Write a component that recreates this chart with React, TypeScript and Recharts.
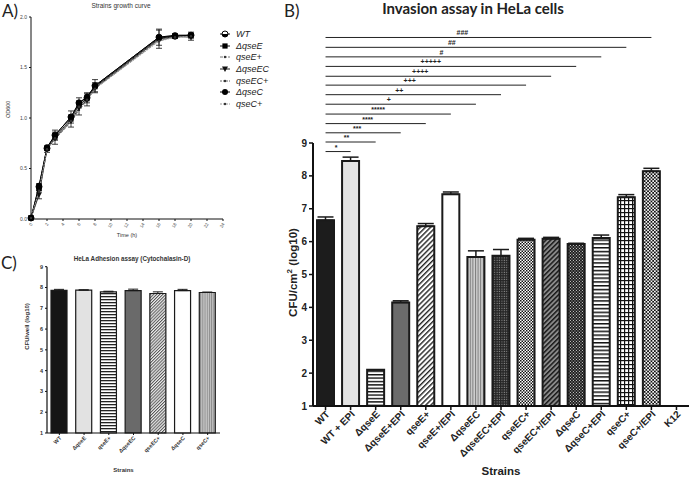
import React from "react";
import {
  Bar,
  BarChart,
  Cell,
  ErrorBar,
  Legend,
  Line,
  LineChart,
  ReferenceLine,
  XAxis,
  YAxis,
} from "recharts";

const FONT = "'Liberation Sans', Arial, sans-serif";
const HEAD_FONT = "Lato, 'Open Sans', sans-serif";

// ---------- A) growth curve ----------
const growthHours = [0, 1, 2, 3, 5, 6, 7, 8, 16, 18, 20];
const odWT = [0.01, 0.32, 0.7, 0.83, 1.01, 1.15, 1.2, 1.32, 1.8, 1.81, 1.82];
const odQseE = [0.01, 0.3, 0.7, 0.81, 0.99, 1.13, 1.19, 1.31, 1.79, 1.81, 1.82];
const odQseEPlus = [0.01, 0.26, 0.69, 0.79, 0.96, 1.08, 1.17, 1.29, 1.77, 1.8, 1.81];
const odQseEC = [0.01, 0.24, 0.69, 0.8, 0.97, 1.1, 1.18, 1.3, 1.78, 1.81, 1.8];
const odQseECPlus = [0.01, 0.27, 0.7, 0.82, 0.98, 1.12, 1.19, 1.3, 1.78, 1.8, 1.81];
const odQseC = [0.01, 0.33, 0.71, 0.83, 1.01, 1.15, 1.21, 1.32, 1.8, 1.82, 1.82];
const odQseCPlus = [0.01, 0.28, 0.69, 0.8, 0.97, 1.11, 1.18, 1.29, 1.76, 1.8, 1.81];
const odErrWT = [0, 0.03, 0.02, 0.05, 0.06, 0.05, 0.05, 0.06, 0.08, 0.02, 0.03];
const odErrQseEC = [0, 0.04, 0.03, 0.06, 0.06, 0.07, 0.06, 0.05, 0.09, 0.02, 0.03];
const growthXTicks = [0, 2, 4, 6, 8, 10, 12, 14, 16, 18, 20, 22, 24];
const growthYTicks = [0, 0.5, 1, 1.5, 2];

// ---------- B) invasion assay ----------
const invasionStrains = [
  "WT", "WT + EPI", "ΔqseE", "ΔqseE+EPI", "qseE+", "qseE+/EPI", "ΔqseEC", "ΔqseEC+EPI",
  "qseEC+", "qseEC+/EPI", "ΔqseC", "ΔqseC+EPI", "qseC+", "qseC+/EPI", "K12",
];
const invasionMeans = [6.65, 8.45, 2.1, 4.15, 6.47, 7.44, 5.53, 5.57, 6.06, 6.09, 5.93, 6.11, 7.35, 8.14, null];
const invasionSem = [0.1, 0.12, 0, 0.05, 0.08, 0.07, 0.19, 0.19, 0.04, 0.04, 0.02, 0.09, 0.08, 0.09, null];
const invasionTicks = [1, 2, 3, 4, 5, 6, 7, 8, 9];

// significance brackets: all start at WT
const sigMarks = ["*", "**", "***", "****", "*****", "+", "++", "+++", "++++", "+++++", "#", "##", "###"];
const sigTargets = [
  "WT + EPI", "ΔqseE", "ΔqseE+EPI", "qseE+", "qseE+/EPI", "ΔqseEC", "ΔqseEC+EPI",
  "qseEC+", "qseEC+/EPI", "ΔqseC", "ΔqseC+EPI", "qseC+", "qseC+/EPI",
];
const sigLevels = [8.74, 9.03, 9.31, 9.59, 9.88, 10.18, 10.47, 10.76, 11.03, 11.33, 11.62, 11.91, 12.21];

// ---------- C) adhesion assay ----------
const adhesionStrains = ["WT", "ΔqseE", "qseE+", "ΔqseEC", "qseEC+", "ΔqseC", "qseC+"];
const adhesionMeans = [7.86, 7.87, 7.79, 7.85, 7.71, 7.85, 7.76];
const adhesionSem = [0.05, 0.02, 0.03, 0.07, 0.08, 0.06, 0.02];
const adhesionTicks = [1, 2, 3, 4, 5, 6, 7, 8, 9];

const growthData = growthHours.map((t, i) => ({
  time: t,
  wt: odWT[i],
  qseE: odQseE[i],
  qseEPlus: odQseEPlus[i],
  qseEC: odQseEC[i],
  qseECPlus: odQseECPlus[i],
  qseC: odQseC[i],
  qseCPlus: odQseCPlus[i],
  wtErr: odErrWT[i],
  qseECErr: odErrQseEC[i],
}));

const invasionData = invasionStrains.map((s, i) => ({
  strain: s,
  mean: invasionMeans[i],
  err: invasionSem[i] == null ? null : [0, invasionSem[i]],
}));

const adhesionData = adhesionStrains.map((s, i) => ({
  strain: s,
  mean: adhesionMeans[i],
  err: [0, adhesionSem[i]],
}));

type Marker = "half" | "square" | "tri" | "circle" | "dot";

const growthSeries: { key: string; name: string; marker: Marker; stroke: string; dash?: string; err?: string }[] = [
  { key: "wt", name: "WT", marker: "half", stroke: "#111", err: "wtErr" },
  { key: "qseE", name: "ΔqseE", marker: "square", stroke: "#111" },
  { key: "qseEPlus", name: "qseE+", marker: "dot", stroke: "#777", dash: "3 1" },
  { key: "qseEC", name: "ΔqseEC", marker: "tri", stroke: "#222", err: "qseECErr" },
  { key: "qseECPlus", name: "qseEC+", marker: "dot", stroke: "#666", dash: "2 1" },
  { key: "qseC", name: "ΔqseC", marker: "circle", stroke: "#000" },
  { key: "qseCPlus", name: "qseC+", marker: "dot", stroke: "#999", dash: "2 1" },
];

function markerShape(kind: Marker, cx: number, cy: number, key: string) {
  if (cx == null || cy == null) return <g key={key} />;
  switch (kind) {
    case "half":
      return (
        <g key={key}>
          <circle cx={cx} cy={cy} r={3} fill="#fff" stroke="#000" strokeWidth={1} />
          <path d={`M${cx - 3},${cy} A3,3 0 0 0 ${cx + 3},${cy} Z`} fill="#000" />
        </g>
      );
    case "square":
      return <rect key={key} x={cx - 2.6} y={cy - 2.6} width={5.2} height={5.2} fill="#000" />;
    case "tri":
      return <path key={key} d={`M${cx - 3},${cy - 2.5} L${cx + 3},${cy - 2.5} L${cx},${cy + 3} Z`} fill="#111" />;
    case "circle":
      return <circle key={key} cx={cx} cy={cy} r={3} fill="#000" />;
    default:
      return <circle key={key} cx={cx} cy={cy} r={1.2} fill="#333" />;
  }
}

function GrowthLegend() {
  return (
    <div style={{ fontFamily: FONT, fontSize: 9, fontStyle: "italic", color: "#222" }}>
      {growthSeries.map((s) => (
        <div key={s.key} style={{ display: "flex", alignItems: "center", height: 11.7 }}>
          <svg width={12} height={10}>
            <line x1={1} x2={11} y1={5} y2={5} stroke={s.stroke} strokeDasharray={s.dash} />
            {markerShape(s.marker, 6, 5, "m")}
          </svg>
          <span style={{ marginLeft: 5 }}>{s.name}</span>
        </div>
      ))}
    </div>
  );
}

function GrowthXTick({ x, y, payload }: any) {
  return (
    <text x={x} y={y} dy={2} transform={`rotate(-60, ${x}, ${y})`} textAnchor="end" fontSize={4.5} fontFamily={FONT} fill="#555">
      {payload.value}
    </text>
  );
}

function InvasionXTick({ x, y, payload }: any) {
  return (
    <text
      x={x + 2}
      y={y}
      dy={4}
      transform={`rotate(-45, ${x + 2}, ${y})`}
      textAnchor="end"
      fontSize={10}
      fontWeight="bold"
      fontFamily={FONT}
      fill="#222"
    >
      {payload.value}
    </text>
  );
}

function AdhesionXTick({ x, y, payload }: any) {
  return (
    <text
      x={x + 1}
      y={y}
      dy={2}
      transform={`rotate(-45, ${x + 1}, ${y})`}
      textAnchor="end"
      fontSize={5.5}
      fontWeight="bold"
      fontFamily={FONT}
      fill="#333"
    >
      {payload.value}
    </text>
  );
}

function SigLabel(props: any) {
  const vb = props.viewBox;
  if (!vb) return null;
  return (
    <text
      x={vb.x + vb.width * 0.42}
      y={vb.y - 2}
      textAnchor="middle"
      fontSize={7}
      fontWeight="bold"
      fontFamily={FONT}
      fill="#222"
    >
      {props.value}
    </text>
  );
}

function InvasionYLabel(props: any) {
  const vb = props.viewBox || { x: 0, y: 143, width: 33, height: 263 };
  const cx = vb.x + 13;
  const cy = vb.y + vb.height / 2 - 2;
  return (
    <text
      x={cx}
      y={cy}
      transform={`rotate(-90, ${cx}, ${cy})`}
      textAnchor="middle"
      dominantBaseline="central"
      fontFamily={FONT}
      fontWeight="bold"
      fontSize={11.5}
      fill="#222"
    >
      CFU/cm
      <tspan dy={-4} fontSize={8}>2</tspan>
      <tspan dy={4}> (log10)</tspan>
    </text>
  );
}

const invasionFills = [
  "#1c1c1c", "#e3e3e3", "url(#bHLines)", "#6b6b6b", "url(#bDiag)", "#ffffff", "url(#bVLines)", "url(#bDense)",
  "url(#bCheck)", "url(#bDiagDark)", "url(#bCheckDark)", "url(#bHLines2)", "url(#bGrid)", "url(#bCheck2)", "#ffffff",
];
const adhesionFills = ["#151515", "#e2e2e2", "url(#cHLines)", "#6a6a6a", "url(#cDiag)", "#ffffff", "url(#cVLines)"];

const headStyle: React.CSSProperties = { position: "absolute", fontFamily: HEAD_FONT, fontSize: 17, lineHeight: "20px", color: "#222" };

export default function App() {
  return (
    <div style={{ position: "absolute", left: 0, top: 0, width: 691, height: 478, background: "#fff", overflow: "hidden" }}>
      {/* Panel letters and titles */}
      <div style={{ ...headStyle, left: 2, top: 1 }}>A)</div>
      <div style={{ ...headStyle, left: 284, top: 1 }}>B)</div>
      <div style={{ ...headStyle, left: 1, top: 253 }}>C)</div>
      <div style={{ position: "absolute", left: 60, top: 2, width: 122, textAlign: "center", fontFamily: FONT, fontSize: 6.5, lineHeight: "8px", color: "#333" }}>
        Strains growth curve
      </div>
      <div style={{ position: "absolute", left: 360, top: 0, width: 226, textAlign: "center", fontFamily: HEAD_FONT, fontSize: 15, lineHeight: "17px", fontWeight: 700, color: "#222" }}>
        Invasion assay in HeLa cells
      </div>
      <div style={{ position: "absolute", left: 50, top: 255, width: 164, textAlign: "center", fontFamily: FONT, fontSize: 6.3, lineHeight: "8px", fontWeight: 700, color: "#333" }}>
        HeLa Adhesion assay (Cytochalasin-D)
      </div>

      {/* A) growth curve */}
      <div style={{ position: "absolute", left: 0, top: 0 }}>
        <LineChart width={280} height={245} data={growthData} margin={{ top: 17, right: 57, bottom: 0, left: 0 }}>
          <XAxis
            dataKey="time"
            type="number"
            domain={[0, 24]}
            ticks={growthXTicks}
            interval={0}
            height={26}
            tickSize={2}
            tick={<GrowthXTick />}
            axisLine={{ stroke: "#111", strokeWidth: 1 }}
            tickLine={{ stroke: "#111" }}
            label={{ value: "Time (h)", position: "insideBottom", offset: 8, fontSize: 5.5, fontFamily: FONT, fill: "#333" }}
          />
          <YAxis
            domain={[0, 2]}
            ticks={growthYTicks}
            width={31}
            tickSize={2}
            tickFormatter={(v: number) => v.toFixed(1)}
            tick={{ fontSize: 5, fontFamily: FONT, fill: "#444" }}
            axisLine={{ stroke: "#111", strokeWidth: 1 }}
            tickLine={{ stroke: "#111" }}
            label={{ value: "OD600", angle: -90, position: "insideLeft", offset: 8, fontSize: 5.5, fontFamily: FONT, fill: "#333" }}
          />
          <Legend
            content={<GrowthLegend />}
            layout="vertical"
            align="center"
            verticalAlign="middle"
            wrapperStyle={{ left: 219, top: 28, width: 70 }}
          />
          {growthSeries.map((s) => (
            <Line
              key={s.key}
              dataKey={s.key}
              name={s.name}
              stroke={s.stroke}
              strokeWidth={1}
              strokeDasharray={s.dash}
              isAnimationActive={false}
              dot={(p: any) => markerShape(s.marker, p.cx, p.cy, `${s.key}-${p.index}`)}
              activeDot={false}
            >
              {s.err ? <ErrorBar dataKey={s.err} direction="y" width={3} stroke="#111" strokeWidth={0.8} /> : null}
            </Line>
          ))}
        </LineChart>
      </div>

      {/* B) invasion assay */}
      <div style={{ position: "absolute", left: 280, top: 0 }}>
        <BarChart width={411} height={478} data={invasionData} margin={{ top: 143, right: 2, bottom: 0, left: 0 }} barSize={17}>
          <defs>
            <pattern id="bHLines" width="4" height="3.4" patternUnits="userSpaceOnUse">
              <rect width="4" height="3.4" fill="#fff" />
              <rect width="4" height="1.4" fill="#111" />
            </pattern>
            <pattern id="bHLines2" width="4" height="3.8" patternUnits="userSpaceOnUse">
              <rect width="4" height="3.8" fill="#fff" />
              <rect width="4" height="1.5" fill="#111" />
            </pattern>
            <pattern id="bDiag" width="3.6" height="3.6" patternUnits="userSpaceOnUse" patternTransform="rotate(45)">
              <rect width="3.6" height="3.6" fill="#fff" />
              <rect width="1.4" height="3.6" fill="#222" />
            </pattern>
            <pattern id="bDiagDark" width="3.4" height="3.4" patternUnits="userSpaceOnUse" patternTransform="rotate(45)">
              <rect width="3.4" height="3.4" fill="#8a8a8a" />
              <rect width="1.5" height="3.4" fill="#1a1a1a" />
            </pattern>
            <pattern id="bVLines" width="2.6" height="4" patternUnits="userSpaceOnUse">
              <rect width="2.6" height="4" fill="#cfcfcf" />
              <rect width="1" height="4" fill="#7a7a7a" />
            </pattern>
            <pattern id="bDense" width="2.4" height="2.4" patternUnits="userSpaceOnUse">
              <rect width="2.4" height="2.4" fill="#262626" />
              <rect x="0.6" y="0.6" width="1" height="1" fill="#9a9a9a" />
            </pattern>
            <pattern id="bCheck" width="3" height="3" patternUnits="userSpaceOnUse">
              <rect width="3" height="3" fill="#fff" />
              <rect width="1.5" height="1.5" fill="#111" />
              <rect x="1.5" y="1.5" width="1.5" height="1.5" fill="#111" />
            </pattern>
            <pattern id="bCheck2" width="3.4" height="3.4" patternUnits="userSpaceOnUse">
              <rect width="3.4" height="3.4" fill="#f4f4f4" />
              <rect width="1.7" height="1.7" fill="#111" />
              <rect x="1.7" y="1.7" width="1.7" height="1.7" fill="#111" />
            </pattern>
            <pattern id="bCheckDark" width="3" height="3" patternUnits="userSpaceOnUse">
              <rect width="3" height="3" fill="#1a1a1a" />
              <rect x="0.4" y="0.4" width="1.1" height="1.1" fill="#bdbdbd" />
              <rect x="1.9" y="1.9" width="1.1" height="1.1" fill="#bdbdbd" />
            </pattern>
            <pattern id="bGrid" width="4" height="4" patternUnits="userSpaceOnUse">
              <rect width="4" height="4" fill="#fff" />
              <rect width="4" height="1.2" fill="#111" />
              <rect width="1.2" height="4" fill="#111" />
            </pattern>
          </defs>
          <XAxis
            dataKey="strain"
            interval={0}
            height={72}
            tickSize={4}
            tick={<InvasionXTick />}
            axisLine={{ stroke: "#111", strokeWidth: 2 }}
            tickLine={{ stroke: "#111", strokeWidth: 1.5 }}
            label={{ value: "Strains", position: "insideBottom", offset: 3, fontSize: 11.5, fontWeight: "bold", fontFamily: FONT, fill: "#222" }}
          />
          <YAxis
            domain={[1, 9]}
            ticks={invasionTicks}
            interval={0}
            allowDataOverflow
            width={33}
            tickSize={4}
            tick={{ fontSize: 10, fontWeight: "bold", fontFamily: FONT, fill: "#222" }}
            axisLine={{ stroke: "#111", strokeWidth: 2 }}
            tickLine={{ stroke: "#111", strokeWidth: 1.5 }}
            label={<InvasionYLabel />}
          />
          {sigMarks.map((m, i) => (
            <ReferenceLine
              key={m}
              segment={[
                { x: "WT", y: sigLevels[i] },
                { x: sigTargets[i], y: sigLevels[i] },
              ]}
              ifOverflow="visible"
              stroke="#222"
              strokeWidth={1}
              label={{ value: m, content: SigLabel }}
            />
          ))}
          <Bar dataKey="mean" stroke="#1a1a1a" strokeWidth={2} isAnimationActive={false}>
            {invasionData.map((d, i) => (
              <Cell key={d.strain} fill={invasionFills[i]} />
            ))}
            <ErrorBar dataKey="err" direction="y" width={8} stroke="#1a1a1a" strokeWidth={1.5} />
          </Bar>
        </BarChart>
      </div>

      {/* C) adhesion assay */}
      <div style={{ position: "absolute", left: 0, top: 245 }}>
        <BarChart width={230} height={233} data={adhesionData} margin={{ top: 21.7, right: 10, bottom: 0, left: 0 }} barSize={16}>
          <defs>
            <pattern id="cHLines" width="4" height="3" patternUnits="userSpaceOnUse">
              <rect width="4" height="3" fill="#fff" />
              <rect width="4" height="1.3" fill="#222" />
            </pattern>
            <pattern id="cDiag" width="2.2" height="2.2" patternUnits="userSpaceOnUse" patternTransform="rotate(45)">
              <rect width="2.2" height="2.2" fill="#eee" />
              <rect width="1" height="2.2" fill="#555" />
            </pattern>
            <pattern id="cVLines" width="2.2" height="4" patternUnits="userSpaceOnUse">
              <rect width="2.2" height="4" fill="#c4c4c4" />
              <rect width="0.9" height="4" fill="#8a8a8a" />
            </pattern>
          </defs>
          <XAxis
            dataKey="strain"
            interval={0}
            height={45}
            tickSize={2}
            tick={<AdhesionXTick />}
            axisLine={{ stroke: "#111", strokeWidth: 1.2 }}
            tickLine={{ stroke: "#111" }}
            label={{ value: "Strains", position: "insideBottom", offset: 6, dx: -10, fontSize: 6, fontWeight: "bold", fontFamily: FONT, fill: "#333" }}
          />
          <YAxis
            domain={[1, 9]}
            ticks={adhesionTicks}
            interval={0}
            width={47}
            tickSize={2}
            tick={{ fontSize: 5.5, fontWeight: "bold", fontFamily: FONT, fill: "#333" }}
            axisLine={{ stroke: "#111", strokeWidth: 1.2 }}
            tickLine={{ stroke: "#111" }}
            label={{ value: "CFU/well (log10)", angle: -90, position: "insideLeft", offset: 27, fontSize: 6, fontWeight: "bold", fontFamily: FONT, fill: "#333" }}
          />
          <Bar dataKey="mean" stroke="#1a1a1a" strokeWidth={1.2} isAnimationActive={false}>
            {adhesionData.map((d, i) => (
              <Cell key={d.strain} fill={adhesionFills[i]} />
            ))}
            <ErrorBar dataKey="err" direction="y" width={5} stroke="#1a1a1a" strokeWidth={1} />
          </Bar>
        </BarChart>
      </div>
    </div>
  );
}
